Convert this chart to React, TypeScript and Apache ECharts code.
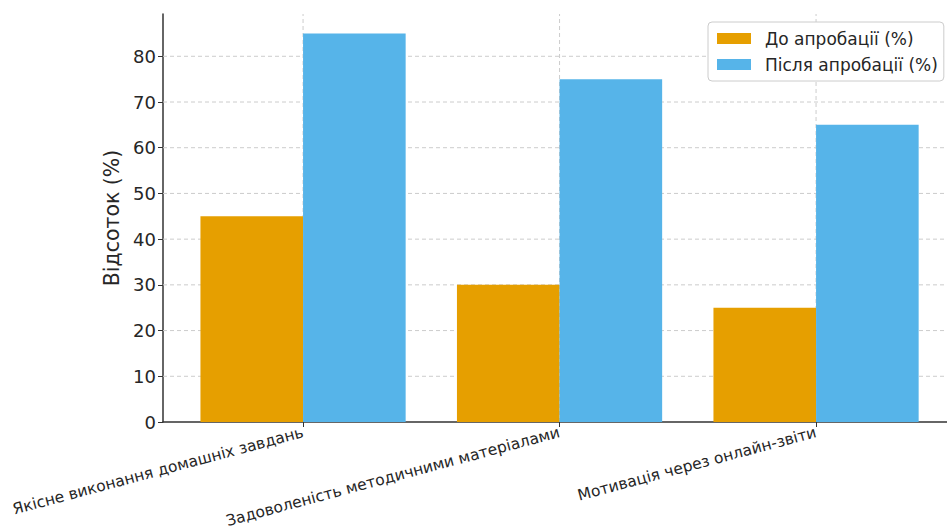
import React, { useEffect, useRef } from "react";
import * as echarts from "echarts";

const categories = [
  "Якісне виконання домашніх завдань",
  "Задоволеність методичними матеріалами",
  "Мотивація через онлайн-звіти",
];
const beforeValues = [45, 30, 25];
const afterValues = [85, 75, 65];
const seriesNames = ["До апробації (%)", "Після апробації (%)"];
const yTicks = [0, 10, 20, 30, 40, 50, 60, 70, 80];
const categoryIndex = [0, 1, 2];

const FONT = "DejaVu Sans";
const TEXT = "#262626";
const GRID = "#cccccc";

export default function App() {
  const ref = useRef<HTMLDivElement>(null);
  useEffect(() => {
    if (!ref.current) return;
    const chart = echarts.init(ref.current, undefined, { renderer: "svg" });
    const yMax = 89.25;
    chart.setOption({
      animation: false,
      backgroundColor: "#ffffff",
      textStyle: { fontFamily: FONT },
      grid: {
        left: 163,
        right: 0,
        top: 14,
        bottom: 107,
        containLabel: false,
        outerBoundsMode: "none",
      },
      legend: {
        orient: "vertical",
        left: 708,
        top: 22,
        data: seriesNames,
        itemWidth: 34,
        itemHeight: 11,
        itemGap: 9,
        padding: [8, 6, 8, 9],
        borderColor: "#cccccc",
        borderWidth: 1,
        borderRadius: 4,
        backgroundColor: "#ffffff",
        textStyle: { fontSize: 17, color: TEXT, fontFamily: FONT, padding: [0, 0, 0, 9] },
        icon: "rect",
      },
      xAxis: {
        type: "value",
        min: -0.546,
        max: 2.5105,
        axisLine: { show: true, onZero: false, lineStyle: { color: "#333333", width: 1.5 } },
        axisTick: { show: true, customValues: categoryIndex, length: 5, lineStyle: { color: "#333333" } },
        axisLabel: {
          customValues: categoryIndex,
          formatter: (v: number) => categories[Math.round(v)] ?? "",
          rotate: 15,
          fontSize: 15.5,
          color: TEXT,
          fontFamily: FONT,
          margin: 10,
        },
        splitLine: { show: false },
      },
      yAxis: {
        type: "value",
        min: 0,
        max: yMax,
        name: "Відсоток (%)",
        nameLocation: "middle",
        nameGap: 38,
        nameTextStyle: { fontSize: 20.5, color: TEXT, fontFamily: FONT },
        axisLine: { show: true, onZero: false, lineStyle: { color: "#333333", width: 1.5 } },
        axisTick: { show: true, customValues: yTicks, length: 5, lineStyle: { color: "#333333" } },
        axisLabel: {
          customValues: yTicks,
          fontSize: 18,
          color: TEXT,
          fontFamily: FONT,
          margin: 7,
        },
        splitLine: { show: false },
      },
      series: [
        {
          type: "custom",
          z: 1,
          silent: true,
          data: categoryIndex,
          renderItem: (params: any, api: any) => {
            const x = api.value(0);
            const p0 = api.coord([x, 0]);
            const p1 = api.coord([x, yMax]);
            return {
              type: "line",
              shape: { x1: p0[0], y1: p0[1], x2: p1[0], y2: p1[1] },
              style: { stroke: GRID, lineWidth: 1, lineDash: [4, 3] },
            };
          },
          encode: { x: 0 },
        },
        {
          type: "custom",
          z: 1,
          silent: true,
          data: yTicks.filter((t) => t > 0).map((t) => [0, t]),
          renderItem: (params: any, api: any) => {
            const y = api.value(1);
            const p0 = api.coord([-0.546, y]);
            const p1 = api.coord([2.5105, y]);
            return {
              type: "line",
              shape: { x1: p0[0], y1: p0[1], x2: p1[0], y2: p1[1] },
              style: { stroke: GRID, lineWidth: 1, lineDash: [4, 3] },
            };
          },
          encode: { x: 0, y: 1 },
        },
        {
          name: seriesNames[0],
          type: "bar",
          barWidth: 102.6,
          barGap: "-100%",
          itemStyle: { color: "#E69F00" },
          data: beforeValues.map((v, i) => [i - 0.2, v]),
          z: 2,
        },
        {
          name: seriesNames[1],
          type: "bar",
          barWidth: 102.6,
          barGap: "-100%",
          itemStyle: { color: "#56B4E9" },
          data: afterValues.map((v, i) => [i + 0.2, v]),
          z: 2,
        },
      ],
    });
    return () => chart.dispose();
  }, []);
  return (
    <div
      ref={ref}
      style={{ position: "fixed", left: 0, top: 0, width: 947, height: 529 }}
    />
  );
}
